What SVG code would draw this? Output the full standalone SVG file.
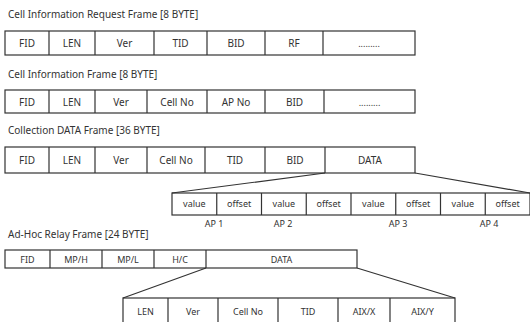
<svg xmlns="http://www.w3.org/2000/svg" width="530" height="322" viewBox="0 0 530 322">
<style>
.t{font-family:"Noto Sans","Liberation Sans",sans-serif;font-size:10px;fill:#333}
.c{font-family:"Noto Sans","Liberation Sans",sans-serif;font-size:10px;fill:#333;text-anchor:middle}
.s{font-size:9px}
.b{fill:#fff;stroke:#333;stroke-width:1.2}
.l{stroke:#333;stroke-width:1.2;fill:none}
</style>
<rect width="530" height="322" fill="#fff"/>
<g id="title1"><text class="t" x="8" y="18">Cell Information Request Frame [8 BYTE]</text></g>
<g id="frame1">
<rect class="b" x="5" y="31" width="410" height="24"/>
<path class="l" d="M49 31V55M95 31V55M154 31V55M207 31V55M265 31V55M323 31V55"/>
<text class="c" x="27" y="47">FID</text><text class="c" x="72" y="47">LEN</text><text class="c" x="124.5" y="47">Ver</text><text class="c" x="180.5" y="47">TID</text><text class="c" x="236" y="47">BID</text><text class="c" x="294" y="47">RF</text><text class="c s" x="369" y="47">.........</text>
</g>
<g id="title2"><text class="t" x="8" y="78">Cell Information Frame [8 BYTE]</text></g>
<g id="frame2">
<rect class="b" x="5" y="90" width="410" height="23"/>
<path class="l" d="M49 90V113M95 90V113M147 90V113M207 90V113M265 90V113M324 90V113"/>
<text class="c" x="27" y="105.5">FID</text><text class="c" x="72" y="105.5">LEN</text><text class="c" x="121" y="105.5">Ver</text><text class="c" x="177" y="105.5">Cell No</text><text class="c" x="236" y="105.5">AP No</text><text class="c" x="294.5" y="105.5">BID</text><text class="c s" x="369.5" y="105.5">.........</text>
</g>
<g id="title3"><text class="t" x="8" y="134">Collection DATA Frame [36 BYTE]</text></g>
<g id="frame3">
<rect class="b" x="5" y="147" width="410" height="26"/>
<path class="l" d="M49 147V173M95 147V173M147 147V173M205 147V173M265 147V173M325 147V173"/>
<text class="c" x="27" y="164">FID</text><text class="c" x="72" y="164">LEN</text><text class="c" x="121" y="164">Ver</text><text class="c" x="176" y="164">Cell No</text><text class="c" x="235" y="164">TID</text><text class="c" x="295" y="164">BID</text><text class="c" x="370" y="164">DATA</text>
</g>
<g id="data3">
<rect class="b" x="172" y="193" width="358" height="22"/>
<path class="l" d="M216.75 193V215M261.5 193V215M306.25 193V215M351 193V215M395.75 193V215M440.5 193V215M485.25 193V215"/>
<text class="c s" x="194.4" y="207">value</text><text class="c s" x="239.1" y="207">offset</text><text class="c s" x="283.9" y="207">value</text><text class="c s" x="328.6" y="207">offset</text><text class="c s" x="373.4" y="207">value</text><text class="c s" x="418.1" y="207">offset</text><text class="c s" x="462.9" y="207">value</text><text class="c s" x="507.6" y="207">offset</text>
<text class="c s" x="214" y="227">AP 1</text><text class="c s" x="283" y="227">AP 2</text><text class="c s" x="398" y="227">AP 3</text><text class="c s" x="489" y="227">AP 4</text>
</g>
<g id="title4"><text class="t" x="8" y="238">Ad-Hoc Relay Frame [24 BYTE]</text></g>
<g id="frame4">
<rect class="b" x="5" y="250" width="352" height="18"/>
<path class="l" d="M50 250V268M102 250V268M154 250V268M206 250V268"/>
<text class="c s" x="27.5" y="262.5">FID</text><text class="c s" x="76" y="262.5">MP/H</text><text class="c s" x="128" y="262.5">MP/L</text><text class="c s" x="180" y="262.5">H/C</text><text class="c s" x="281.5" y="262.5">DATA</text>
</g>
<g id="data4">
<rect class="b" x="123" y="298" width="332" height="30"/>
<path class="l" d="M168 298V322M218 298V322M278 298V322M338 298V322M390 298V322"/>
<text class="c s" x="145.5" y="315">LEN</text><text class="c s" x="193" y="315">Ver</text><text class="c s" x="248" y="315">Cell No</text><text class="c s" x="308" y="315">TID</text><text class="c s" x="364" y="315">AIX/X</text><text class="c s" x="422.5" y="315">AIX/Y</text>
</g>
<g id="connectors">
<path class="l" d="M325 173L172 193M415 173L530 193"/>
<path class="l" d="M206 268L123 298M357 268L455 298"/>
</g>
</svg>
